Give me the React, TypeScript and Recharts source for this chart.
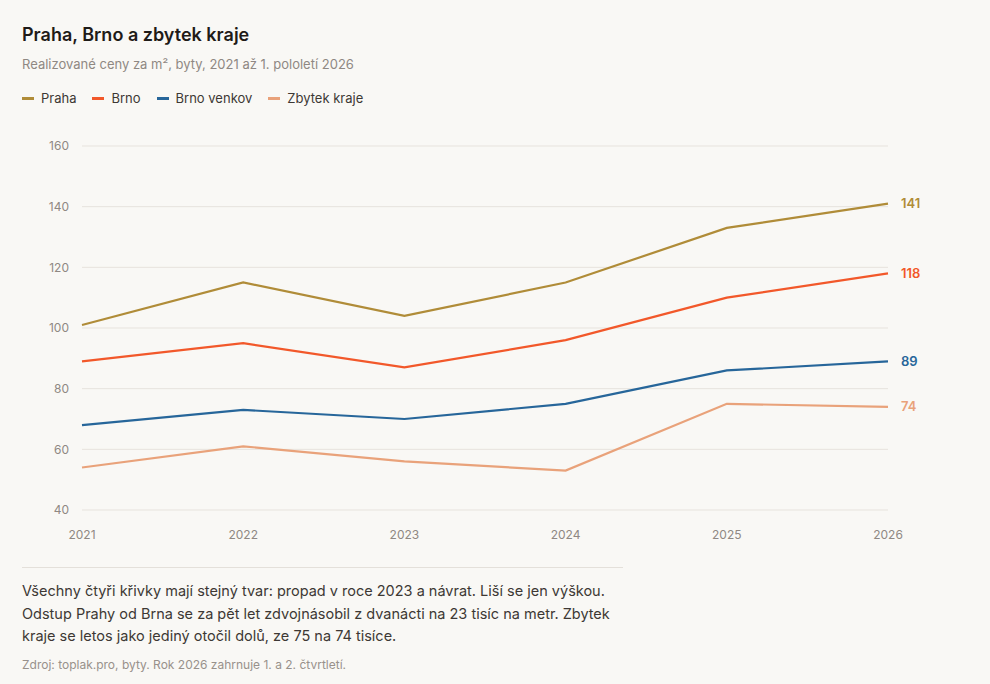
import React from "react";
import { LineChart, Line, XAxis, YAxis, CartesianGrid } from "recharts";

const years = ["2021", "2022", "2023", "2024", "2025", "2026"];
const praha = [101, 115, 104, 115, 133, 141];
const brno = [89, 95, 87, 96, 110, 118];
const brnoVenkov = [68, 73, 70, 75, 86, 89];
const zbytekKraje = [54, 61, 56, 53, 75, 74];
const yTicks = [40, 60, 80, 100, 120, 140, 160];

const series = [
  { key: "praha", name: "Praha", color: "#b08c38" },
  { key: "brno", name: "Brno", color: "#f2582a" },
  { key: "brnoVenkov", name: "Brno venkov", color: "#27669a" },
  { key: "zbytek", name: "Zbytek kraje", color: "#e9a27a" },
];

const data = years.map((year, i) => ({
  year,
  praha: praha[i],
  brno: brno[i],
  brnoVenkov: brnoVenkov[i],
  zbytek: zbytekKraje[i],
}));

const FONT = "Inter, 'Noto Sans', sans-serif";

const endLabel = (color: string) => (props: any) => {
  const { x, y, index, value } = props;
  if (index !== years.length - 1) return null;
  return (
    <text x={x + 13} y={y} dy="0.35em" fill={color} fontSize={13} fontWeight={600} fontFamily={FONT}>
      {value}
    </text>
  );
};

const App = () => {
  return (
    <div
      style={{
        position: "fixed",
        left: 0,
        top: 0,
        width: 990,
        height: 684,
        background: "#f9f8f5",
        fontFamily: FONT,
        overflow: "hidden",
      }}
    >
      <div style={{ position: "absolute", left: 22, top: 24, fontSize: 18, fontWeight: 600, color: "#1f1b18" }}>
        Praha, Brno a zbytek kraje
      </div>
      <div style={{ position: "absolute", left: 22, top: 56, fontSize: 13, color: "#8f8883" }}>
        Realizované ceny za m², byty, 2021 až 1. pololetí 2026
      </div>
      <div style={{ position: "absolute", left: 22, top: 90, display: "flex", gap: 16, fontSize: 13, color: "#3d3834" }}>
        {series.map((s) => (
          <div key={s.key} style={{ display: "flex", alignItems: "center", gap: 7 }}>
            <span style={{ display: "inline-block", width: 12, height: 3, background: s.color }} />
            {s.name}
          </div>
        ))}
      </div>

      <div style={{ position: "absolute", left: 0, top: 0 }}>
        <LineChart width={990} height={560} data={data} margin={{ top: 146, right: 102, bottom: 20, left: 0 }}>
          <CartesianGrid vertical={false} stroke="#e7e3dd" />
          <XAxis
            dataKey="year"
            axisLine={false}
            tickLine={false}
            tickSize={6}
            tickMargin={14}
            height={30}
            tick={{ fill: "#8f8883", fontSize: 12, fontFamily: FONT }}
          />
          <YAxis
            domain={[40, 160]}
            ticks={yTicks}
            axisLine={false}
            tickLine={false}
            width={82}
            tickSize={6}
            tickMargin={7}
            tick={{ fill: "#8f8883", fontSize: 12, fontFamily: FONT }}
          />
          {series.map((s) => (
            <Line
              key={s.key}
              dataKey={s.key}
              name={s.name}
              stroke={s.color}
              strokeWidth={2.2}
              dot={false}
              activeDot={false}
              type="linear"
              isAnimationActive={false}
              label={endLabel(s.color)}
            />
          ))}
        </LineChart>
      </div>

      <div style={{ position: "absolute", left: 22, top: 567, width: 601, height: 1, background: "#e4e0da" }} />
      <div
        style={{
          position: "absolute",
          left: 22,
          top: 580,
          width: 620,
          fontSize: 14.5,
          lineHeight: "22.5px",
          color: "#3d3834",
        }}
      >
        Všechny čtyři křivky mají stejný tvar: propad v roce 2023 a návrat. Liší se jen výškou. Odstup Prahy od Brna se
        za pět let zdvojnásobil z dvanácti na 23 tisíc na metr. Zbytek kraje se letos jako jediný otočil dolů, ze 75 na
        74 tisíce.
      </div>
      <div style={{ position: "absolute", left: 22, top: 657, fontSize: 12, color: "#98918b" }}>
        Zdroj: toplak.pro, byty. Rok 2026 zahrnuje 1. a 2. čtvrtletí.
      </div>
    </div>
  );
};

export default App;
